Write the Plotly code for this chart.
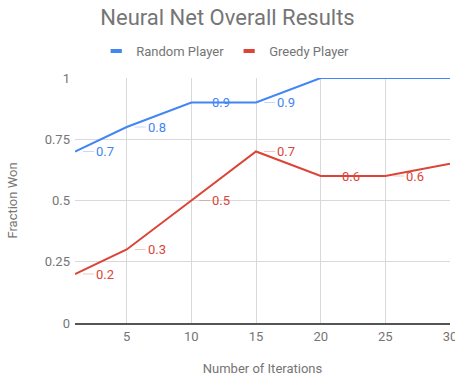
import plotly.graph_objects as go

# Win fraction of the neural net after N training iterations
iterations = [1, 5, 10, 15, 20, 25, 30]
random_player = [0.7, 0.8, 0.9, 0.9, 1.0, 1.0, 1.0]
greedy_player = [0.2, 0.3, 0.5, 0.7, 0.6, 0.6, 0.65]
# which points carry a value label
random_labeled = [True, True, True, True, False, False, False]
greedy_labeled = [True, True, True, True, True, True, False]

y_ticks = [0, 0.25, 0.5, 0.75, 1]
y_tick_text = ["0", "0.25", "0.5", "0.75", "1"]
x_ticks = [5, 10, 15, 20, 25, 30]

BLUE = "#4285F4"
RED = "#DB4437"
BLUE_LEADER = "rgba(66,133,244,0.3)"
RED_LEADER = "rgba(219,68,55,0.3)"
GRAY = "#757575"
FONT = "Roboto"

fig = go.Figure()

for name, ys, color in [("Random Player", random_player, BLUE),
                        ("Greedy Player", greedy_player, RED)]:
    fig.add_trace(go.Scatter(
        x=iterations, y=ys, mode="lines", name=name,
        line=dict(color=color, width=2), showlegend=False,
        hoverinfo="x+y",
    ))
    # short thick legend glyph
    fig.add_trace(go.Scatter(
        x=[None], y=[None], mode="markers", name=name,
        marker=dict(symbol="line-ew", size=8,
                    line=dict(color=color, width=4)),
        showlegend=True,
    ))

annotations = []
for ys, flags, color, leader in [(random_player, random_labeled, BLUE, BLUE_LEADER),
                                 (greedy_player, greedy_labeled, RED, RED_LEADER)]:
    for xv, yv, show in zip(iterations, ys, flags):
        if not show:
            continue
        annotations.append(dict(
            x=xv, y=yv, xref="x", yref="y", text=f"{yv:.1f}",
            showarrow=True, ax=19, ay=0, arrowhead=0, arrowwidth=1,
            arrowcolor=leader, standoff=8, xanchor="left",
            font=dict(family=FONT, size=13, color=color),
        ))

fig.update_layout(
    width=455, height=376,
    margin=dict(l=75, r=5, t=78, b=53),
    paper_bgcolor="white", plot_bgcolor="white",
    font=dict(family=FONT, size=12, color=GRAY),
    title=dict(text="Neural Net Overall Results", x=0.5, xanchor="center",
               y=0.955, yanchor="middle",
               font=dict(family=FONT, size=22, color=GRAY)),
    legend=dict(orientation="h", x=0.495, xanchor="center", xref="container",
                y=0.864, yanchor="middle", yref="container",
                font=dict(family=FONT, size=13, color=GRAY),
                itemwidth=30, itemclick=False),
    annotations=annotations,
    xaxis=dict(
        range=[1, 30], tickvals=x_ticks, ticks="",
        ticklabeloverflow="allow", automargin=False,
        showgrid=True, gridcolor="#d9d9d9", gridwidth=1,
        showline=True, linecolor="#555555", linewidth=2,
        zeroline=False, tickfont=dict(family=FONT, size=13, color=GRAY),
        title=dict(text="Number of Iterations", standoff=21,
                   font=dict(family=FONT, size=13, color=GRAY)),
    ),
    yaxis=dict(
        range=[0, 1], tickvals=y_ticks, ticktext=y_tick_text, ticks="",
        ticklabelstandoff=4, automargin=False,
        showgrid=True, gridcolor="#d9d9d9", gridwidth=1,
        showline=False, zeroline=False,
        tickfont=dict(family=FONT, size=13, color=GRAY),
        title=dict(text="Fraction Won", standoff=24,
                   font=dict(family=FONT, size=13, color=GRAY)),
    ),
)

fig.write_html("out.html")
